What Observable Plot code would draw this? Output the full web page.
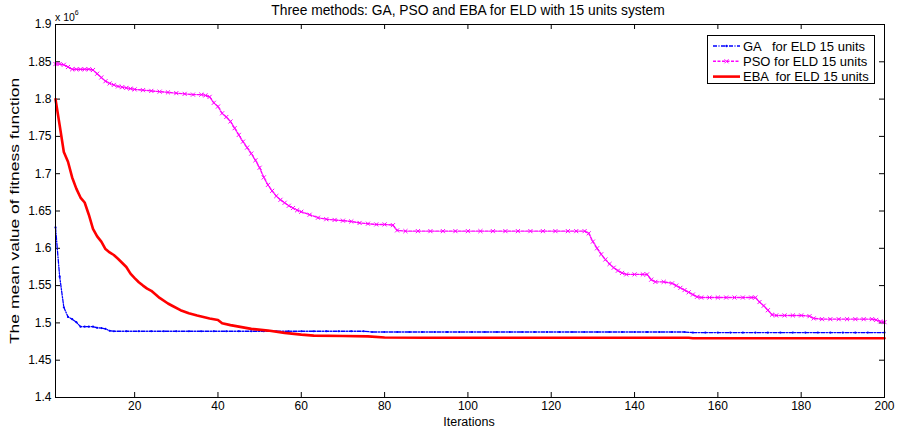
<!DOCTYPE html>
<html><head><meta charset="utf-8">
<script src="https://cdn.jsdelivr.net/npm/d3@7"></script>
<script src="https://cdn.jsdelivr.net/npm/@observablehq/plot@0.6"></script>
<style>body{margin:0;background:#fff} svg{display:block}</style>
</head><body><div id="chart"></div>
<script>
const titleText = "Three methods: GA, PSO and EBA for ELD with 15 units system";
const xLabel = "Iterations";
const yLabel = "The mean value of fitness function";
const xTicks = [20, 40, 60, 80, 100, 120, 140, 160, 180, 200];
const yTicks = [1.4, 1.45, 1.5, 1.55, 1.6, 1.65, 1.7, 1.75, 1.8, 1.85, 1.9];
const seriesNames = ["GA   for ELD 15 units", "PSO for ELD 15 units", "EBA  for ELD 15 units"];

const gaIter = [1,2,3,4,5,6,7,8,9,10,11,12,13,14,15,18,21,24,27,30,33,36,39,42,45,48,51,54,57,60,63,66,69,72,75,77,80,83,86,89,92,95,98,101,104,107,110,113,116,119,122,125,128,131,134,137,140,143,146,149,152,154,157,160,163,166,169,172,175,178,181,184,187,190,193,196,200];
const gaVal  = [1.628,1.562,1.521,1.508,1.505,1.501,1.495,1.495,1.495,1.495,1.4935,1.493,1.492,1.4895,1.4888,1.4888,1.4888,1.4888,1.4888,1.4888,1.4888,1.4888,1.4888,1.4888,1.4888,1.4888,1.4888,1.4888,1.4888,1.4888,1.4888,1.4888,1.4888,1.4888,1.4888,1.4878,1.4878,1.4878,1.4878,1.4878,1.4878,1.4878,1.4878,1.4878,1.4878,1.4878,1.4878,1.4878,1.4878,1.4878,1.4878,1.4878,1.4878,1.4878,1.4878,1.4878,1.4878,1.4878,1.4878,1.4878,1.4878,1.4870,1.4870,1.4870,1.4870,1.4870,1.4870,1.4870,1.4870,1.4870,1.4870,1.4870,1.4870,1.4870,1.4870,1.4870,1.4870];

const psoIter = [1,2,3,4,5,6,7,8,9,10,11,12,13,14,15,16,17,18,19,20,22,24,26,28,30,32,34,36,37,38,39,40,41,42,43,44,45,46,47,48,49,50,51,52,53,54,55,56,57,58,59,60,62,64,66,68,70,72,74,76,78,80,82,83,85,88,91,94,97,100,103,106,109,112,115,118,121,124,126,128,129,130,131,132,133,134,135,136,137,138,140,142,143,144,145,147,149,150,151,152,153,154,155,156,158,160,162,164,166,168,169,170,171,172,173,174,176,178,180,182,183,185,187,189,191,193,195,197,198,199,200];
const psoVal  = [1.847,1.847,1.846,1.843,1.840,1.840,1.840,1.840,1.840,1.839,1.834,1.829,1.824,1.821,1.819,1.817,1.816,1.815,1.814,1.813,1.812,1.811,1.810,1.809,1.808,1.807,1.806,1.806,1.805,1.803,1.795,1.790,1.781,1.776,1.770,1.761,1.752,1.743,1.735,1.727,1.718,1.708,1.695,1.685,1.677,1.670,1.665,1.661,1.657,1.654,1.651,1.649,1.645,1.641,1.639,1.638,1.637,1.636,1.634,1.633,1.632,1.632,1.631,1.624,1.623,1.623,1.623,1.623,1.623,1.623,1.623,1.623,1.623,1.623,1.623,1.623,1.623,1.623,1.623,1.623,1.620,1.609,1.600,1.592,1.585,1.579,1.574,1.570,1.567,1.565,1.565,1.565,1.565,1.558,1.555,1.555,1.553,1.550,1.547,1.544,1.541,1.538,1.535,1.534,1.534,1.534,1.534,1.534,1.534,1.534,1.534,1.528,1.523,1.517,1.511,1.510,1.510,1.510,1.510,1.509,1.506,1.505,1.505,1.505,1.505,1.505,1.505,1.505,1.504,1.502,1.501];

const ebaIter = [1,2,3,4,5,6,7,8,9,10,11,12,13,14,15,16,18,19,20,21,22,23,24,26,28,29,31,33,35,38,40,41,43,45,48,52,56,60,63,70,76,80,90,100,120,140,153,154,170,185,200];
const ebaVal  = [1.800,1.765,1.729,1.716,1.695,1.680,1.668,1.6614,1.645,1.626,1.616,1.609,1.599,1.5945,1.591,1.586,1.575,1.566,1.560,1.5545,1.550,1.546,1.543,1.5335,1.526,1.523,1.517,1.513,1.510,1.506,1.504,1.4995,1.497,1.495,1.492,1.4897,1.4866,1.4843,1.483,1.4825,1.482,1.4805,1.480,1.480,1.480,1.480,1.480,1.4794,1.4794,1.4794,1.4794];

const ga = gaIter.map((x, i) => ({x, y: gaVal[i]}));
const pso = psoIter.map((x, i) => ({x, y: psoVal[i]}));
const eba = ebaIter.map((x, i) => ({x, y: ebaVal[i]}));

const W = 899, H = 428, ML = 55, MR = 15, MT = 24, MB = 31;
const FW = W - ML - MR, FH = H - MT - MB;

const chart = Plot.plot({
  width: W, height: H,
  marginLeft: ML, marginRight: MR, marginTop: MT, marginBottom: MB,
  style: {fontFamily: "'Liberation Sans', Arial, sans-serif", fontSize: "12px", background: "white", color: "black"},
  x: {domain: [1, 200]},
  y: {domain: [1.4, 1.9]},
  marks: [
    Plot.axisX(xTicks, {tickSize: 0, tickPadding: 4, tickFormat: d => String(d), label: null}),
    Plot.axisY(yTicks, {tickSize: 0, tickPadding: 4, tickFormat: d => String(d), label: null}),
    Plot.tickX(xTicks, {x: d => d, insetTop: FH - 5, stroke: "black"}),
    Plot.tickX(xTicks, {x: d => d, insetBottom: FH - 5, stroke: "black"}),
    Plot.tickY(yTicks, {y: d => d, insetRight: FW - 5, stroke: "black"}),
    Plot.tickY(yTicks, {y: d => d, insetLeft: FW - 5, stroke: "black"}),
    Plot.line(pso, {x: "x", y: "y", stroke: "#ff00ff", strokeWidth: 1.4, strokeDasharray: "3,1.5"}),
    Plot.dot(pso, {x: "x", y: "y", symbol: "times", r: 2, stroke: "#ff00ff", strokeWidth: 1}),
    Plot.line(ga, {x: "x", y: "y", stroke: "#0000ff", strokeWidth: 1.3, strokeDasharray: "4,1.5,1,1.5"}),
    Plot.dot(ga, {x: "x", y: "y", r: 1.1, fill: "#0000ff", stroke: null}),
    Plot.line(eba, {x: "x", y: "y", stroke: "#ff0000", strokeWidth: 2.6}),
    Plot.frame({stroke: "black", strokeWidth: 1})
  ]
});
document.getElementById("chart").append(chart);

const svg = d3.select(chart);
const font = "'Liberation Sans', Arial, sans-serif";
svg.append("text").attr("x", 468).attr("y", 15).attr("text-anchor", "middle")
  .attr("font-family", font).attr("font-size", 13.8).text(titleText);
svg.append("text").attr("x", 469).attr("y", 425.5).attr("text-anchor", "middle")
  .attr("font-family", font).attr("font-size", 12.5).text(xLabel);
svg.append("text").attr("transform", "translate(18.5,211) rotate(-90) scale(1.4,1)").attr("text-anchor", "middle")
  .attr("font-family", font).attr("font-size", 12.5).text(yLabel);
const ex = svg.append("text").attr("x", 55).attr("y", 20.5).attr("text-anchor", "start")
  .attr("font-family", font).attr("font-size", 10.5);
ex.append("tspan").text("x 10");
ex.append("tspan").attr("font-size", 7).attr("dy", -6).text("6");

// legend
const lg = svg.append("g");
lg.append("rect").attr("x", 707.5).attr("y", 35.5).attr("width", 167).attr("height", 48)
  .attr("fill", "white").attr("stroke", "black").attr("stroke-width", 1);
const legendStyles = [
  {stroke: "#0000ff", w: 1.3, dash: "4,1.5,1,1.5", marker: "dot"},
  {stroke: "#ff00ff", w: 1.4, dash: "3,1.5", marker: "x"},
  {stroke: "#ff0000", w: 2.6, dash: null, marker: null}
];
seriesNames.forEach((name, i) => {
  const cy = 46 + i * 15.3;
  const s = legendStyles[i];
  lg.append("line").attr("x1", 713).attr("x2", 740).attr("y1", cy).attr("y2", cy)
    .attr("stroke", s.stroke).attr("stroke-width", s.w).attr("stroke-dasharray", s.dash);
  if (s.marker === "dot") lg.append("circle").attr("cx", 726.5).attr("cy", cy).attr("r", 1.2).attr("fill", s.stroke);
  if (s.marker === "x") lg.append("path").attr("d", `M724.5,${cy-2}L728.5,${cy+2}M724.5,${cy+2}L728.5,${cy-2}`).attr("stroke", s.stroke);
  lg.append("text").attr("x", 743).attr("y", cy + 4.5).attr("text-anchor", "start")
    .attr("font-family", font).attr("font-size", 13)
    .style("white-space", "pre").text(name);
});
</script>
</body></html>
